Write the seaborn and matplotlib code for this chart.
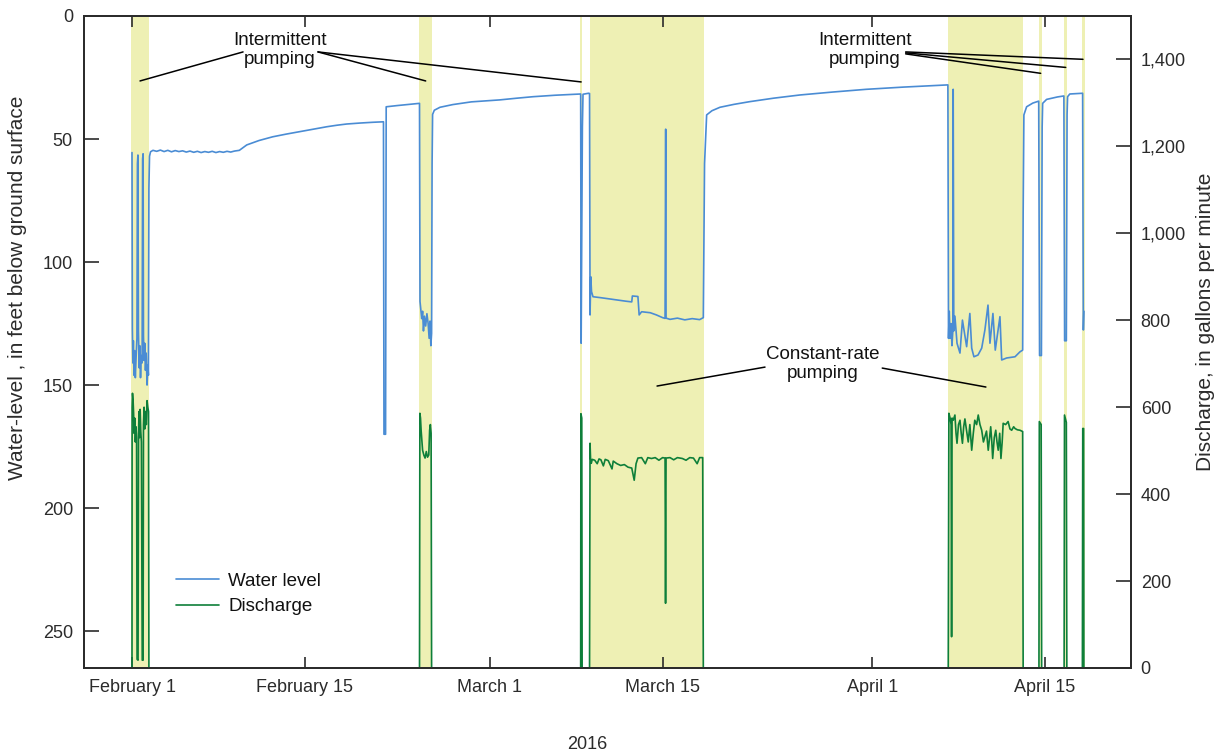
import numpy as np
import pandas as pd
import matplotlib
matplotlib.use("Agg")
import matplotlib.pyplot as plt
from matplotlib.ticker import FuncFormatter, FixedLocator
import seaborn as sns

sns.set_theme(style="white")
plt.rcParams["font.family"] = ["Liberation Sans", "DejaVu Sans"]

START = pd.Timestamp("2016-02-01")

# ---- water level, feet below ground surface (days after Feb 1, 2016) ----
level_days = [
    0.00, 0.03, 0.07, 0.11, 0.16, 0.21, 0.27, 0.33, 0.40, 0.44, 0.48,
    0.52, 0.58, 0.63, 0.69, 0.75, 0.82, 0.86, 0.90,
    0.93, 0.98, 1.03, 1.09, 1.15, 1.22, 1.28, 1.33, 1.37, 1.42, 1.50, 1.70,
    2.0, 2.3, 2.6, 2.9, 3.2, 3.5, 3.8, 4.1, 4.4, 4.7, 5.0, 5.3, 5.6, 5.9,
    6.2, 6.5, 6.8, 7.1, 7.4, 7.7, 8.0, 8.3, 8.7,
    9.3, 10.3, 11.4, 12.5, 13.6, 14.7, 15.8, 16.6, 17.4, 18.5, 19.5, 20.38,
    20.42, 20.55, 20.60, 21.5, 22.5, 23.30,
    23.34, 23.40, 23.48, 23.55, 23.62, 23.70, 23.80, 23.90, 24.00, 24.08,
    24.15, 24.22, 24.28, 24.32, 24.36, 24.50, 24.96, 26.0, 27.5, 29.8, 31.2,
    32.5, 34.3, 36.36,
    36.40, 36.50, 36.55, 37.0, 37.08,
    37.12, 37.18, 37.24, 37.36, 38.0, 39.0, 40.0, 40.50, 40.55, 41.0, 41.1,
    41.3, 42.0, 42.5, 43.0, 43.20, 43.25, 43.28, 43.6, 44.2, 44.8, 45.4,
    46.0, 46.30, 46.40, 46.57, 47.0, 47.65, 48.8, 50.08, 52.0, 54.13, 56.8,
    59.5, 62.5, 66.12,
    66.17, 66.23, 66.30, 66.38, 66.45, 66.52, 66.55, 66.60, 66.69, 66.86,
    67.10, 67.30, 67.64, 67.90, 68.05, 68.23, 68.56, 68.86, 69.12, 69.37,
    69.53, 69.77, 69.96, 70.34, 70.48, 70.88, 71.56, 71.96, 72.18, 72.22,
    72.28, 72.50, 73.0, 73.48,
    73.55, 73.70, 73.76, 73.80, 74.12, 75.0, 75.52,
    75.58, 75.72, 75.78, 75.82, 76.0, 77.04,
    77.10, 77.14,
]
level_ft = [
    55.5, 127, 141, 132, 146, 136, 147, 139, 131, 60, 56.5,
    128, 143, 134, 147, 138, 141, 58, 56,
    130, 140, 133, 144, 137, 150, 142, 146, 70, 57, 55.2, 54.6,
    55.0, 54.5, 55.1, 54.6, 55.2, 54.7, 55.1, 54.8, 55.3, 54.9, 55.4, 55.0, 55.5, 55.1,
    55.4, 55.0, 55.5, 55.1, 55.4, 55.0, 55.3, 54.9, 54.6,
    52.4, 50.6, 49.1, 48.0, 47.0, 46.0, 45.0, 44.4, 43.9, 43.5, 43.2, 43.0,
    170, 170, 36.9, 36.4, 35.9, 35.5,
    116, 119, 123, 120, 128, 122, 126, 121, 125, 131,
    124, 134, 129, 60, 40, 38.3, 37.1, 36.0, 34.9, 34.1, 33.4,
    32.8, 32.2, 31.7,
    133, 45, 31.8, 31.4, 31.5,
    121.5, 106, 112, 114.1, 114.5, 115.2, 115.9, 116.2, 113.8, 114.0, 121.5,
    120.2, 120.6, 121.5, 122.6, 122.9, 46.0, 122.8, 123.3, 122.8, 123.5, 123.0,
    123.4, 122.6, 60, 40.2, 38.5, 37.1, 35.9, 34.8, 33.4, 32.1, 30.9,
    29.8, 28.9, 28.0,
    131, 120, 131, 125, 134, 128, 29.8, 128, 122, 133,
    137, 123.6, 134.4, 120.9, 135, 138.5, 137.8, 135, 127.6, 117.5,
    133, 120.9, 135.8, 122.2, 139.8, 139.0, 138.5, 136.5, 135.8, 80,
    40.2, 36.9, 35.4, 34.6,
    138, 138, 45, 35.5, 33.9, 32.9, 32.5,
    132, 132, 40, 32.8, 31.7, 31.4,
    127.6, 120,
]

# ---- discharge, gallons per minute, one list pair per pumping event ----
q_feb01_days = [0.00, 0.01, 0.04, 0.09, 0.13, 0.17, 0.22, 0.27, 0.32, 0.37, 0.41,
                0.49, 0.53, 0.57, 0.61, 0.66, 0.71, 0.76, 0.83, 0.90, 0.93, 0.98,
                1.04, 1.10, 1.16, 1.22, 1.28, 1.34, 1.37]
q_feb01_gpm = [0, 600, 632, 615, 586, 540, 575, 520, 555, 530, 20,
               18, 540, 590, 530, 595, 545, 520, 18, 18, 560, 600,
               550, 590, 560, 615, 600, 590, 0]

q_feb24_days = [23.30, 23.33, 23.38, 23.43, 23.50, 23.55, 23.65, 23.75, 23.85,
                23.95, 24.05, 24.12, 24.18, 24.24, 24.28]
q_feb24_gpm = [0, 586, 575, 547, 520, 501, 490, 483, 498, 485, 490, 547, 560, 540, 0]

q_mar08_days = [36.36, 36.38, 36.45, 36.48]
q_mar08_gpm = [0, 585, 575, 0]

q_mar09_days = [37.08, 37.12, 37.16, 37.22, 37.30, 37.50, 37.70, 37.85, 38.00,
                38.20, 38.35, 38.60, 38.90, 39.00, 39.30, 39.60, 39.90, 40.20,
                40.50, 40.70, 40.85, 41.00, 41.30, 41.60, 41.80, 42.10, 42.40,
                42.70, 43.00, 43.20, 43.24, 43.28, 43.60, 43.90, 44.20, 44.60,
                44.90, 45.20, 45.50, 45.80, 46.00, 46.25, 46.30]
q_mar09_gpm = [0, 517, 483, 471, 480, 478, 470, 481, 479,
               465, 480, 477, 458, 476, 470, 466, 468, 462,
               460, 432, 470, 483, 484, 470, 484, 482, 484,
               478, 484, 483, 149, 483, 484, 479, 484, 482,
               478, 484, 483, 470, 484, 484, 0]

q_apr06_days = [66.15, 66.20, 66.30, 66.38, 66.42, 66.46, 66.55, 66.69, 66.78,
                66.86, 66.98, 67.10, 67.20, 67.30, 67.40, 67.50, 67.64, 67.77,
                67.90, 68.05, 68.18, 68.30, 68.45, 68.58, 68.72, 68.86, 69.00,
                69.12, 69.25, 69.39, 69.50, 69.59, 69.68, 69.75, 69.88, 70.00,
                70.10, 70.20, 70.32, 70.42, 70.52, 70.60, 70.80, 71.00, 71.15,
                71.29, 71.45, 71.56, 71.75, 71.96, 72.18, 72.22]
q_apr06_gpm = [0, 586, 575, 560, 72, 575, 570, 582, 540,
               517, 560, 570, 540, 517, 555, 573, 545, 520,
               560, 501, 540, 570, 560, 582, 560, 547, 520,
               532, 545, 501, 530, 555, 520, 482, 530, 547,
               520, 501, 540, 482, 520, 563, 560, 567, 550,
               547, 555, 551, 548, 547, 544, 0]

q_apr13_days = [73.50, 73.53, 73.68, 73.72]
q_apr13_gpm = [0, 567, 560, 0]
q_apr15_days = [75.54, 75.57, 75.72, 75.76]
q_apr15_gpm = [0, 582, 565, 0]
q_apr17_days = [77.02, 77.05, 77.12, 77.14]
q_apr17_gpm = [0, 551, 551, 0]

# ---- pumping periods (shaded) ----
pump_start = [-0.05, 23.26, 36.32, 37.10, 66.13, 73.48, 75.52, 76.96]
pump_end = [1.38, 24.31, 36.46, 46.35, 72.22, 73.72, 75.80, 77.22]

# ---- axis ticks ----
date_ticks = ["2016-02-01", "2016-02-15", "2016-03-01", "2016-03-15",
              "2016-04-01", "2016-04-15"]
date_labels = ["February 1", "February 15", "March 1", "March 15",
               "April 1", "April 15"]
level_ticks = [0, 50, 100, 150, 200, 250]
gpm_ticks = [0, 200, 400, 600, 800, 1000, 1200, 1400]


def to_time(days):
    return START + pd.to_timedelta(np.asarray(days, dtype=float), unit="D")


level_df = pd.DataFrame({"time": to_time(level_days), "level": level_ft})

events = [
    ("feb01", q_feb01_days, q_feb01_gpm),
    ("feb24", q_feb24_days, q_feb24_gpm),
    ("mar08", q_mar08_days, q_mar08_gpm),
    ("mar09", q_mar09_days, q_mar09_gpm),
    ("apr06", q_apr06_days, q_apr06_gpm),
    ("apr13", q_apr13_days, q_apr13_gpm),
    ("apr15", q_apr15_days, q_apr15_gpm),
    ("apr17", q_apr17_days, q_apr17_gpm),
]
q_df = pd.concat(
    [pd.DataFrame({"time": to_time(d), "gpm": g, "event": name})
     for name, d, g in events],
    ignore_index=True,
)

BLUE = "#4a8cd4"
GREEN = "#0e7f3a"
SHADE = "#eef0b4"
INK = "#2b2b2b"
W, H = 1220, 755

fig = plt.figure(figsize=(W / 100, H / 100), dpi=100)
ax = fig.add_axes([84 / W, 1 - 668 / H, (1131 - 84) / W, (668 - 16) / H])
ax2 = ax.twinx()

for s, e in zip(pump_start, pump_end):
    ax.axvspan(to_time([s])[0], to_time([e])[0], color=SHADE, lw=0, zorder=0)

sns.lineplot(data=level_df, x="time", y="level", ax=ax, color=BLUE, lw=1.2,
             estimator=None, sort=False, legend=False)
level_line = ax.lines[-1]

sns.lineplot(data=q_df, x="time", y="gpm", units="event", ax=ax2, color=GREEN,
             lw=1.2, estimator=None, sort=False, legend=False)
q_line = ax2.lines[0]

ax.set_xlim(to_time([-3.89])[0], to_time([80.96])[0])
ax.set_ylim(265, 0)
ax2.set_ylim(0, 1500)

ax.set_xticks(pd.to_datetime(date_ticks))
ax.set_xticklabels(date_labels)
ax.set_yticks(level_ticks)
ax.set_yticklabels([str(v) for v in level_ticks])
ax2.yaxis.set_major_locator(FixedLocator(gpm_ticks))
ax2.yaxis.set_major_formatter(FuncFormatter(lambda v, p: f"{int(v):,}"))

ax.tick_params(axis="x", direction="in", length=8, width=1.2, top=True,
               bottom=True, labelsize=13, pad=8, colors=INK)
ax.tick_params(axis="y", direction="in", length=11, width=1.2, left=True,
               right=False, labelsize=13, pad=8, colors=INK)
ax2.tick_params(axis="y", direction="in", length=11, width=1.2, right=True,
                labelsize=13, pad=7, colors=INK)

for a in (ax, ax2):
    for sp in a.spines.values():
        sp.set_color(INK)
        sp.set_linewidth(1.3)
        sp.set_visible(True)

ax.set_xlabel("2016", fontsize=13, color=INK)
ax.xaxis.set_label_coords((587 - 84) / 1047, (668 - 736) / 652)
ax.set_ylabel("Water-level , in feet below ground surface", fontsize=15, color=INK)
ax.yaxis.set_label_coords((27 - 84) / 1047, (668 - 288) / 652)
ax2.set_ylabel("Discharge, in gallons per minute", fontsize=15, color=INK)
ax2.yaxis.set_label_coords((1196 - 84) / 1047, (668 - 322) / 652)

# annotations: text anchors and leader lines in (day, ft)
note_fs = 13.5
ax.text(to_time([12.0])[0], 13.8, "Intermittent\npumping", ha="center",
        va="center", fontsize=note_fs, linespacing=1.1, color="#111111")
ax.text(to_time([59.4])[0], 13.8, "Intermittent\npumping", ha="center",
        va="center", fontsize=note_fs, linespacing=1.1, color="#111111")
ax.text(to_time([56.0])[0], 141.5, "Constant-rate\npumping", ha="center",
        va="center", fontsize=note_fs, linespacing=1.1, color="#111111")

leaders = [
    ((9.0, 14.6), (0.65, 26.4)),
    ((15.07, 14.6), (23.8, 26.4)),
    ((15.07, 14.6), (36.4, 26.8)),
    ((62.7, 14.6), (77.07, 17.6)),
    ((62.7, 15.0), (75.67, 20.9)),
    ((62.7, 15.4), (73.64, 23.3)),
    ((51.3, 142.7), (42.55, 150.4)),
    ((60.8, 143.1), (69.2, 150.8)),
]
for (d0, f0), (d1, f1) in leaders:
    ax.annotate("", xy=(to_time([d1])[0], f1), xytext=(to_time([d0])[0], f0),
                arrowprops=dict(arrowstyle="-", lw=1.1, color="black",
                                shrinkA=0, shrinkB=0))

leg = ax2.legend([level_line, q_line], ["Water level", "Discharge"],
                 loc="upper left", bbox_to_anchor=((168 - 84) / 1047, (668 - 565) / 652),
                 frameon=False, fontsize=13.5, handlelength=2.3,
                 handletextpad=0.5, labelspacing=0.45, borderaxespad=0)
for t in leg.get_texts():
    t.set_color("#111111")

fig.savefig("out.png", dpi=100)
